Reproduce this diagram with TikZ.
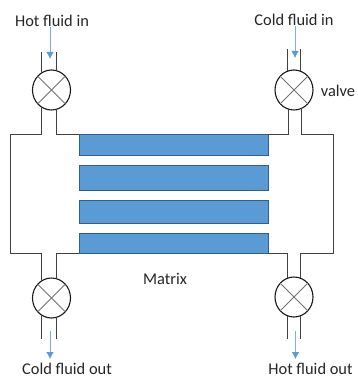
\documentclass[tikz,border=0pt]{standalone}
\usepackage{fontspec}
\setmainfont{Carlito}
\usetikzlibrary{arrows.meta,shapes.geometric}
\definecolor{matrix-fill}{HTML}{5B9BD5}
\definecolor{matrix-edge}{HTML}{2F5F8F}
\definecolor{flow-blue}{HTML}{5B9BD5}
\tikzset{
    pipe-line/.style = {draw=black!75, line width=0.9pt},
    valve-ring/.style = {draw=black!90, fill=white, ellipse, line width=1.1pt, minimum width=38pt, minimum height=40pt, inner sep=0pt, outer sep=0pt},
    valve-cross/.style = {draw=black!55, line width=0.8pt},
    matrix-plate/.style = {draw=matrix-edge, fill=matrix-fill, line width=0.8pt, rectangle, minimum width=189pt, inner sep=0pt, outer sep=0pt, anchor=north west},
    flow-arrow/.style = {draw=flow-blue!80, line width=0.8pt, -{Latex[length=7pt,width=7.5pt,color=flow-blue]}},
    fluid-label/.style = {text=black!85, font=\fontsize{16.4pt}{18pt}\selectfont, inner sep=0pt},
}

\begin{document}
\begin{tikzpicture}[x=1pt,y=-1pt]
\useasboundingbox (0,0) rectangle (357,379);
\node [fluid-label] (hot-in-label) at (52,21) {Hot fluid in};
\node [fluid-label] (cold-in-label) at (294,20) {Cold fluid in};
\node [fluid-label] (cold-out-label) at (67,369) {Cold fluid out};
\node [fluid-label] (hot-out-label) at (310.5,369) {Hot fluid out};
\node [fluid-label] (valve-label) at (338,91) {valve};
\node [fluid-label] (matrix-label) at (165,279) {Matrix};

\node [valve-ring] (hot-in-valve) at (51.5,90) {};
\node [valve-ring] (cold-in-valve) at (294,90) {};
\node [valve-ring] (cold-out-valve) at (51.5,298) {};
\node [valve-ring] (hot-out-valve) at (294,297) {};
\foreach \v in {hot-in-valve,cold-in-valve,cold-out-valve,hot-out-valve} {
    \draw [valve-cross] (\v.45) -- (\v.225);
    \draw [valve-cross] (\v.135) -- (\v.315);
}

\node [matrix-plate, minimum height=21.5pt] (matrix-one) at (79,134) {};
\node [matrix-plate, minimum height=25pt] (matrix-two) at (79,165) {};
\node [matrix-plate, minimum height=23pt] (matrix-three) at (79,200) {};
\node [matrix-plate, minimum height=20.5pt] (matrix-four) at (79,233) {};

\coordinate (left-wall-top) at (10.5,134);
\coordinate (left-wall-bottom) at (10.5,253);
\coordinate (right-wall-top) at (333,134);
\coordinate (right-wall-bottom) at (333,253);
\coordinate (hot-in-end) at (50,52);
\coordinate (cold-in-end) at (295,49);
\coordinate (cold-out-end) at (50,339);
\coordinate (hot-out-end) at (295.5,339);

% stubs
\draw [pipe-line] (hot-in-valve.120) -- (hot-in-valve.120 |- hot-in-end);
\draw [pipe-line] (hot-in-valve.75) -- (hot-in-valve.75 |- hot-in-end);
\draw [pipe-line] (cold-in-valve.110) -- (cold-in-valve.110 |- cold-in-end);
\draw [pipe-line] (cold-in-valve.70) -- (cold-in-valve.70 |- cold-in-end);
\draw [pipe-line] (cold-out-valve.240) -- (cold-out-valve.240 |- cold-out-end);
\draw [pipe-line] (cold-out-valve.285) -- (cold-out-valve.285 |- cold-out-end);
\draw [pipe-line] (hot-out-valve.250) -- (hot-out-valve.250 |- hot-out-end);
\draw [pipe-line] (hot-out-valve.290) -- (hot-out-valve.290 |- hot-out-end);

% housing
\draw [pipe-line] (hot-in-valve.240) |- (left-wall-top) -- (left-wall-bottom) -| (cold-out-valve.120);
\draw [pipe-line] (hot-in-valve.285) |- (matrix-one.north west);
\draw [pipe-line] (cold-out-valve.75) |- (matrix-four.south west);
\draw [pipe-line] (cold-in-valve.255) |- (matrix-one.north east);
\draw [pipe-line] (cold-in-valve.293) |- (right-wall-top) -- (right-wall-bottom) -| (hot-out-valve.70);
\draw [pipe-line] (hot-out-valve.110) |- (matrix-four.south east);

% flow direction
\coordinate (hot-in-tip) at (50,59);
\coordinate (cold-in-tip) at (295,58);
\coordinate (cold-out-start) at (50,331);
\coordinate (hot-out-start) at (295.5,331);
\draw [flow-arrow] (hot-in-label.south -| hot-in-tip) -- (hot-in-tip);
\draw [flow-arrow] (cold-in-label.south -| cold-in-tip) -- (cold-in-tip);
\draw [flow-arrow, shorten >=4pt] (cold-out-start) -- (cold-out-label.north -| cold-out-start);
\draw [flow-arrow, shorten >=4pt] (hot-out-start) -- (hot-out-label.north -| hot-out-start);
\end{tikzpicture}
\end{document}
